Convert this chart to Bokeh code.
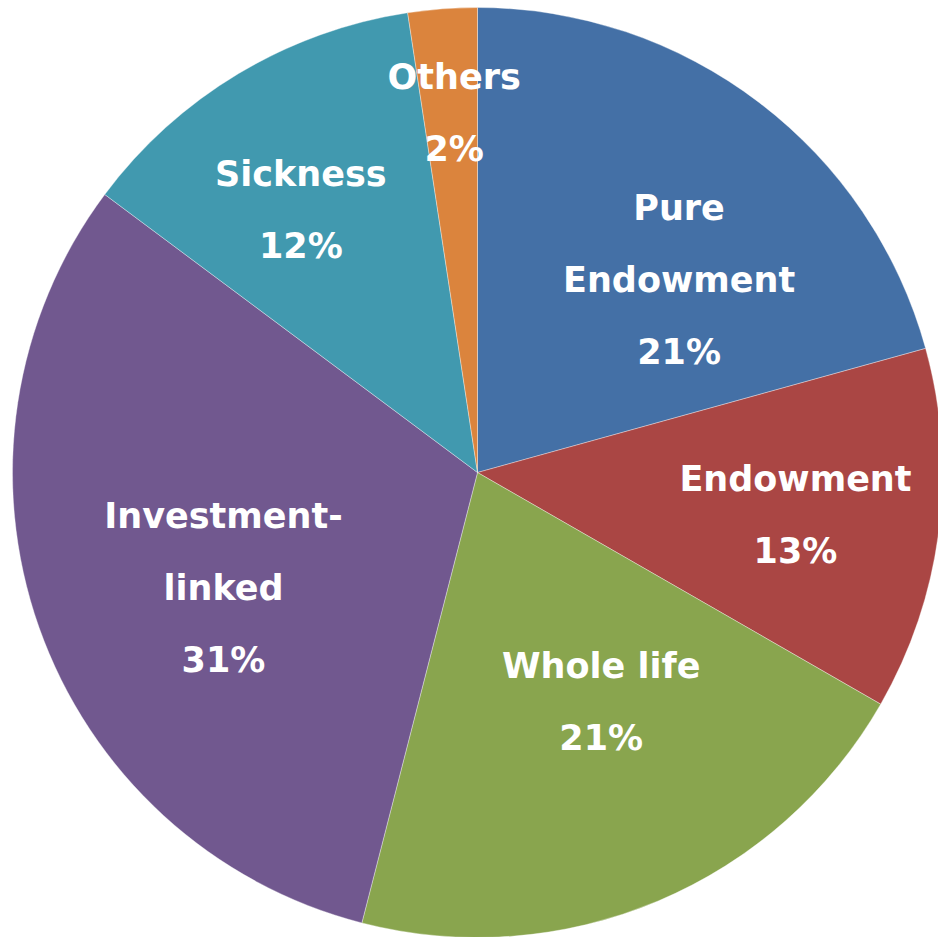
import math
from bokeh.plotting import figure
from bokeh.models import Range1d, ColumnDataSource
from bokeh.core.properties import value
from bokeh.embed import file_html
from bokeh.resources import INLINE

# ---- data ----
categories = ["Pure Endowment", "Endowment", "Whole life", "Investment-linked", "Sickness", "Others"]
shares = [20.7, 12.6, 20.7, 31.2, 12.4, 2.4]
colors = ["#4470A6", "#AA4644", "#89A54E", "#71588F", "#4199AF", "#DB843D"]
label_lines = [["Pure", "Endowment"], ["Endowment"], ["Whole life"], ["Investment-", "linked"], ["Sickness"], ["Others"]]

# ---- layout ----
W, H = 938, 937
cx, cy, R = 477, H - 472, 465
label_r_frac = [0.60, 0.69, 0.56, 0.60, 0.68, 0.775]
label_nudge_deg = [9.0, 0.5, -5.5, -5.0, -3.0, 0.6]
line_gap = 72

total = sum(shares)
starts, ends, mids = [], [], []
cum = 0.0
for s in shares:
    a0 = math.pi / 2 - 2 * math.pi * cum / total
    cum += s
    a1 = math.pi / 2 - 2 * math.pi * cum / total
    starts.append(a0)
    ends.append(a1)
    mids.append((a0 + a1) / 2)

p = figure(width=W, height=H, output_backend="svg", toolbar_location=None,
           x_range=Range1d(0, W), y_range=Range1d(0, H), min_border=0)
p.axis.visible = False
p.grid.visible = False
p.outline_line_color = None
p.background_fill_color = "white"
p.border_fill_color = "white"

src = ColumnDataSource(dict(x=[cx] * len(shares), y=[cy] * len(shares),
                            start=starts, end=ends, color=colors, cat=categories))
p.wedge(x="x", y="y", radius=R, start_angle="start", end_angle="end", direction="clock",
        fill_color="color", line_color="white", line_alpha=0.35, line_width=1, source=src)

tx, ty, tt = [], [], []
for i, s in enumerate(shares):
    ang = mids[i] - math.radians(label_nudge_deg[i])
    r = R * label_r_frac[i]
    lx = cx + r * math.cos(ang)
    ly = cy + r * math.sin(ang)
    lines = label_lines[i] + [f"{round(s)}%"]
    n = len(lines)
    for k, t in enumerate(lines):
        tx.append(lx)
        ty.append(ly + ((n - 1) / 2 - k) * line_gap)
        tt.append(t)

p.text(x=tx, y=ty, text=tt, text_align="center", text_baseline="middle",
       text_color="white", text_font=value("DejaVu Sans"), text_font_style="bold",
       text_font_size="35px")

open("out.html", "w").write(file_html(p, INLINE))
